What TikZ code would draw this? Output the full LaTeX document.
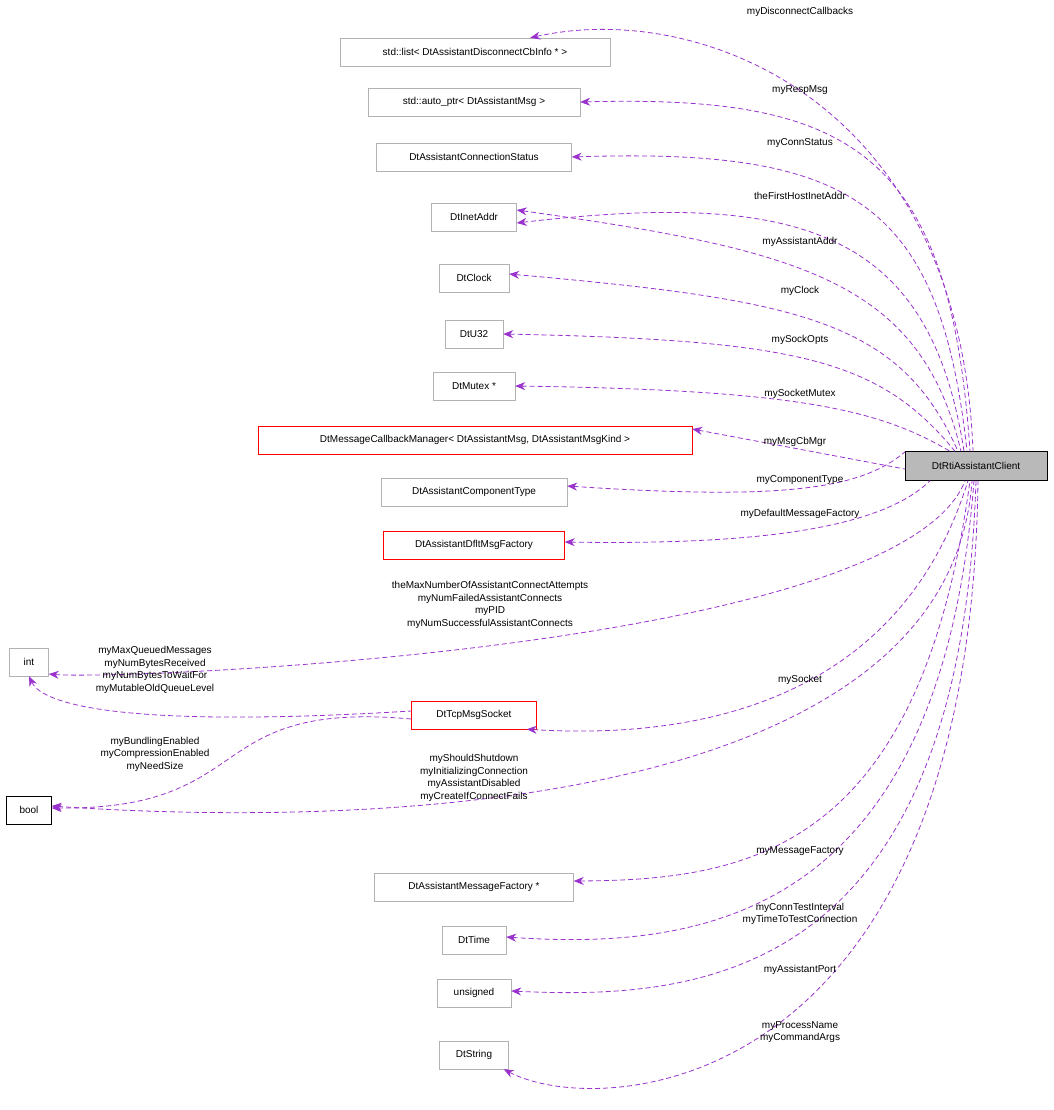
\documentclass[tikz,border=0pt]{standalone}
\usepackage{fontspec}
\setmainfont{Liberation Sans}
\usetikzlibrary{arrows.meta}
\definecolor{edgepurple}{RGB}{154,50,205}
\tikzset{
  cls/.style={draw=gray!60, fill=white, inner sep=0pt, minimum height=28pt, font=\fontsize{10}{11}\selectfont},
  redcls/.style={cls, draw=red},
  edge/.style={draw=edgepurple, line width=0.8pt, dash pattern=on 5pt off 3pt, {Stealth[length=10pt,width=8pt]}-, fill=none},
  lbl/.style={font=\fontsize{10}{12.5}\selectfont, align=center, inner sep=0pt}
}
\begin{document}
\begin{tikzpicture}[x=1pt,y=-1pt]
\useasboundingbox (0,0) rectangle (1053,1110);
% classes
\node[cls, minimum width=270pt] (list) at (475,52) {std::list< DtAssistantDisconnectCbInfo * >};
\node[cls, minimum width=212pt] (autoptr) at (474,102) {std::auto\_ptr< DtAssistantMsg >};
\node[cls, minimum width=195pt] (connstatus) at (474,157) {DtAssistantConnectionStatus};
\node[cls, minimum width=85pt] (inetaddr) at (474,217) {DtInetAddr};
\node[cls, minimum width=70pt] (clock) at (474,278) {DtClock};
\node[cls, minimum width=58pt] (u32) at (474,334) {DtU32};
\node[cls, minimum width=82pt] (mutex) at (474,386) {DtMutex *};
\node[redcls, minimum width=434pt] (cbmgr) at (475,440) {DtMessageCallbackManager< DtAssistantMsg, DtAssistantMsgKind >};
\node[cls, minimum width=186pt] (comptype) at (474,492) {DtAssistantComponentType};
\node[redcls, minimum width=181pt] (dfltfac) at (474,545) {DtAssistantDfltMsgFactory};
\node[cls, minimum width=39pt] (int) at (29,662) {int};
\node[redcls, minimum width=125pt] (tcpsock) at (474,715) {DtTcpMsgSocket};
\node[cls, draw=black, minimum width=45pt] (bool) at (29,810) {bool};
\node[cls, minimum width=199pt] (msgfac) at (474,887) {DtAssistantMessageFactory *};
\node[cls, minimum width=64pt] (time) at (474,940) {DtTime};
\node[cls, minimum width=74pt] (unsigned) at (474,993) {unsigned};
\node[cls, minimum width=69pt] (string) at (474,1055) {DtString};
\node[cls, draw=black, fill=gray!55, minimum width=142pt, minimum height=29pt] (client) at (976,466) {DtRtiAssistantClient};
% connectors
\draw[edge] (list.north east) ++(-80,0) coordinate (e1) .. controls (700,0) and (960,100) .. ([xshift=-3pt]client.north);
\draw[edge] (autoptr.east) .. controls (850,95) and (950,150) .. ([xshift=-6pt]client.north);
\draw[edge] (connstatus.east) .. controls (850,148) and (940,200) .. ([xshift=-9pt]client.north);
\draw[edge] ([yshift=-6pt]inetaddr.east) .. controls (800,190) and (930,230) .. ([xshift=-12pt]client.north);
\draw[edge] ([yshift=7pt]inetaddr.east) .. controls (800,250) and (920,280) .. ([xshift=-15pt]client.north);
\draw[edge] ([yshift=4pt]clock.east) .. controls (800,300) and (900,320) .. ([xshift=-18pt]client.north);
\draw[edge] (u32.east) .. controls (800,340) and (880,360) .. ([xshift=-21pt]client.north);
\draw[edge] (mutex.east) .. controls (800,390) and (880,410) .. ([xshift=-26pt]client.north);
\draw[edge] ([yshift=11pt]cbmgr.east) -- ([yshift=-3pt]client.west);
\draw[edge] ([yshift=6pt]comptype.east) .. controls (780,500) and (860,490) .. ([yshift=14pt]client.west);
\draw[edge] ([yshift=3pt]dfltfac.east) .. controls (750,545) and (880,530) .. ([xshift=-46pt]client.south);
\draw[edge] ([yshift=-12pt]int.east) .. controls (120,680) and (900,650) .. ([xshift=-11pt]client.south);
\draw[edge] (int.south) .. controls (40,700) and (100,730) .. ([yshift=4pt]tcpsock.west);
\draw[edge] ([yshift=2pt]bool.east) .. controls (260,810) and (200,700) .. ([yshift=-4pt]tcpsock.west);
\draw[edge] ([xshift=-10pt]tcpsock.south east) .. controls (700,740) and (900,700) .. ([xshift=-8pt]client.south);
\draw[edge] ([yshift=4pt]bool.east) .. controls (400,830) and (950,800) .. ([xshift=-4pt]client.south);
\draw[edge] ([yshift=6pt]msgfac.east) .. controls (750,880) and (920,850) .. ([xshift=-6pt]client.south);
\draw[edge] ([yshift=3pt]time.east) .. controls (700,950) and (940,920) .. ([xshift=-2pt]client.south);
\draw[edge] ([yshift=2pt]unsigned.east) .. controls (700,1000) and (960,980) .. (client.south);
\draw[edge] ([xshift=-5pt]string.south east) .. controls (600,1120) and (970,1100) .. ([xshift=2pt]client.south);
% labels
\node[lbl] (l1) at (800,12) {myDisconnectCallbacks};
\node[lbl] (l2) at (800,90) {myRespMsg};
\node[lbl] (l3) at (800,143) {myConnStatus};
\node[lbl] (l4) at (800,196) {theFirstHostInetAddr};
\node[lbl] (l5) at (800,242) {myAssistantAddr};
\node[lbl] (l6) at (800,291) {myClock};
\node[lbl] (l7) at (800,340) {mySockOpts};
\node[lbl] (l8) at (800,394) {mySocketMutex};
\node[lbl] (l9) at (795,442) {myMsgCbMgr};
\node[lbl] (l10) at (800,480) {myComponentType};
\node[lbl] (l11) at (800,514) {myDefaultMessageFactory};
\node[lbl] (l12) at (490,605) {theMaxNumberOfAssistantConnectAttempts\\myNumFailedAssistantConnects\\myPID\\myNumSuccessfulAssistantConnects};
\node[lbl] (l13) at (155,670) {myMaxQueuedMessages\\myNumBytesReceived\\myNumBytesToWaitFor\\myMutableOldQueueLevel};
\node[lbl] (l14) at (155,754) {myBundlingEnabled\\myCompressionEnabled\\myNeedSize};
\node[lbl] (l15) at (800,680) {mySocket};
\node[lbl] (l16) at (474,778) {myShouldShutdown\\myInitializingConnection\\myAssistantDisabled\\myCreateIfConnectFails};
\node[lbl] (l17) at (800,851) {myMessageFactory};
\node[lbl] (l18) at (800,914) {myConnTestInterval\\myTimeToTestConnection};
\node[lbl] (l19) at (800,970) {myAssistantPort};
\node[lbl] (l20) at (800,1032) {myProcessName\\myCommandArgs};
\end{tikzpicture}
\end{document}
